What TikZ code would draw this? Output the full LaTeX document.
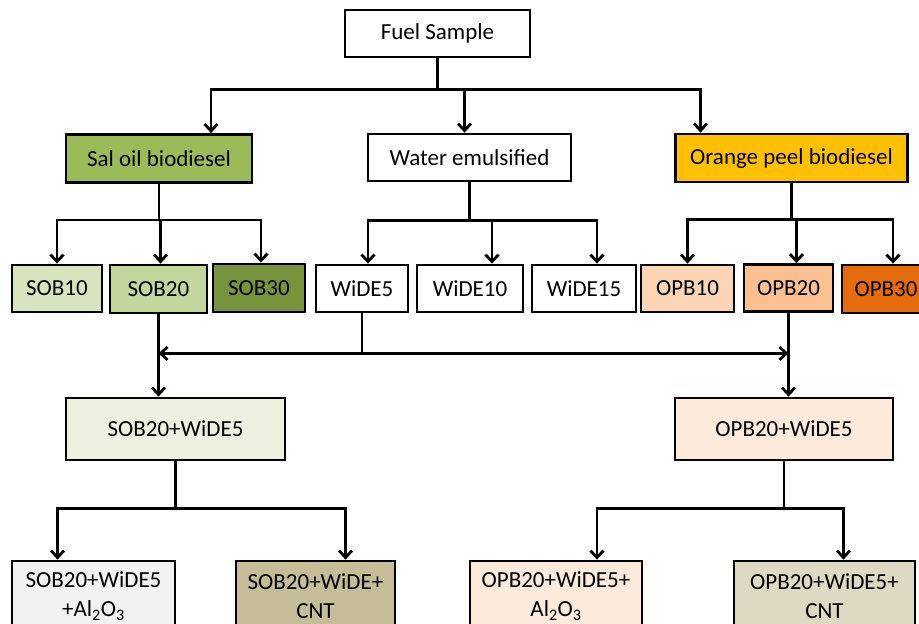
\documentclass[tikz,border=0pt]{standalone}
\usepackage{fontspec}
\setmainfont{Carlito}
\usetikzlibrary{arrows.meta,positioning}
\tikzset{
  box/.style={draw=black,line width=2.8pt,rectangle,align=center,inner sep=2pt,
    font=\fontsize{23}{29}\selectfont,text=black},
  link/.style={draw=black,line width=2.8pt},
  arr/.style={link,-{Straight Barb[length=7pt,width=13pt]}},
}
\begin{document}
\begin{tikzpicture}[x=1pt,y=-1pt]
%
\useasboundingbox (0,0) rectangle (919,624);
%
\definecolor{csal}{HTML}{9BBB59}
\definecolor{csob10}{HTML}{D7E4BD}
\definecolor{csob20}{HTML}{C3D69B}
\definecolor{csob30}{HTML}{77933C}
\definecolor{corange}{HTML}{FFC000}
\definecolor{copb10}{HTML}{FCD5B5}
\definecolor{copb20}{HTML}{FAC090}
\definecolor{copb30}{HTML}{E46C0A}
\definecolor{csobw}{HTML}{EBF1DE}
\definecolor{copbw}{HTML}{FDEADA}
\definecolor{csobal}{HTML}{F2F2F2}
\definecolor{csobcnt}{HTML}{C4BD97}
\definecolor{copbal}{HTML}{FDEADA}
\definecolor{copbcnt}{HTML}{DDD9C3}
%
\node[box,fill=white,minimum width=185,minimum height=47] (fuel) at (437.5,33.5) {Fuel Sample};
%
\node[box,fill=csal,minimum width=186,minimum height=48] (sal) at (159,158.5) {Sal oil biodiesel};
\node[box,fill=white,minimum width=203,minimum height=47] (water) at (469.5,157.5) {Water emulsified};
\node[box,fill=corange,minimum width=232,minimum height=48] (orange) at (791.5,158) {Orange peel biodiesel};
%
\node[box,fill=csob10,minimum width=90,minimum height=47] (sob10) at (57,288.5) {SOB10};
\node[box,fill=csob20,minimum width=97,minimum height=48] (sob20) at (158.5,289) {SOB20};
\node[box,fill=csob30,minimum width=92,minimum height=48] (sob30) at (259,288) {SOB30};
\node[box,fill=white,minimum width=92,minimum height=47] (wide5) at (362,288.5) {WiDE5};
\node[box,fill=white,minimum width=106,minimum height=47] (wide10) at (470,288.5) {WiDE10};
\node[box,fill=white,minimum width=104,minimum height=47] (wide15) at (584,288.5) {WiDE15};
\node[box,fill=copb10,minimum width=93,minimum height=47] (opb10) at (687.5,288.5) {OPB10};
\node[box,fill=copb20,minimum width=89,minimum height=47] (opb20) at (788.5,288) {OPB20};
\node[box,fill=copb30,minimum width=88,minimum height=48] (opb30) at (886,289) {OPB30};
%
\node[box,fill=csobw,minimum width=219,minimum height=62] (sobw) at (175.5,429) {SOB20+WiDE5};
\node[box,fill=copbw,minimum width=218,minimum height=62] (opbw) at (784,429) {OPB20+WiDE5};
%
\node[box,fill=csobal,minimum width=163,minimum height=70] (sobal) at (93.5,596) {SOB20+WiDE5\\+Al\textsubscript{2}O\textsubscript{3}};
\node[box,fill=csobcnt,minimum width=159,minimum height=70] (sobcnt) at (315.5,596) {SOB20+WiDE+\\CNT};
\node[box,fill=copbal,minimum width=172,minimum height=70] (opbal) at (556,596) {OPB20+WiDE5+\\Al\textsubscript{2}O\textsubscript{3}};
\node[box,fill=copbcnt,minimum width=181,minimum height=70] (opbcnt) at (824.5,596) {OPB20+WiDE5+\\CNT};
%
\draw[arr] (fuel.south) -- ++(0,31) -| ([xshift=52]sal.north);
\draw[arr] (fuel.south) -- ++(0,31) -| ([xshift=-5]water.north);
\draw[arr] (fuel.south) -- ++(0,31) -| ([xshift=-91]orange.north);
%
\draw[arr] (sal.south) -- ++(0,36) -| (sob10.north);
\draw[arr] (sal.south) -- ++(0,36) -| ([xshift=2]sob20.north);
\draw[arr] (sal.south) -- ++(0,36) -| ([xshift=2]sob30.north);
%
\draw[arr] (water.south) -- ++(0,38) -| ([xshift=6]wide5.north);
\draw[arr] (water.south) -- ++(0,38) -| ([xshift=22]wide10.north);
\draw[arr] (water.south) -- ++(0,38) -| ([xshift=13]wide15.north);
%
\draw[arr] (orange.south) -- ++(0,36) -| (opb10.north);
\draw[arr] (orange.south) -- ++(0,36) -| ([xshift=8]opb20.north);
\draw[arr] (orange.south) -- ++(0,36) -| ([xshift=7]opb30.north);
%
\draw[link] (wide5.south) -- ++(0,40) coordinate (mj);
\draw[arr] (mj) -- (mj -| sob20.south);
\draw[arr] (mj) -- (mj -| opb20.south);
\draw[arr] (sob20.south) -- (sob20.south |- sobw.north);
\draw[arr] (opb20.south) -- (opb20.south |- opbw.north);
%
\draw[arr] (sobw.south) -- ++(0,47) -| ([xshift=-36]sobal.north);
\draw[arr] (sobw.south) -- ++(0,47) -| ([xshift=30]sobcnt.north);
\draw[arr] (opbw.south) -- ++(0,47) -| ([xshift=41]opbal.north);
\draw[arr] (opbw.south) -- ++(0,47) -| ([xshift=19]opbcnt.north);
%
\end{tikzpicture}
\end{document}
